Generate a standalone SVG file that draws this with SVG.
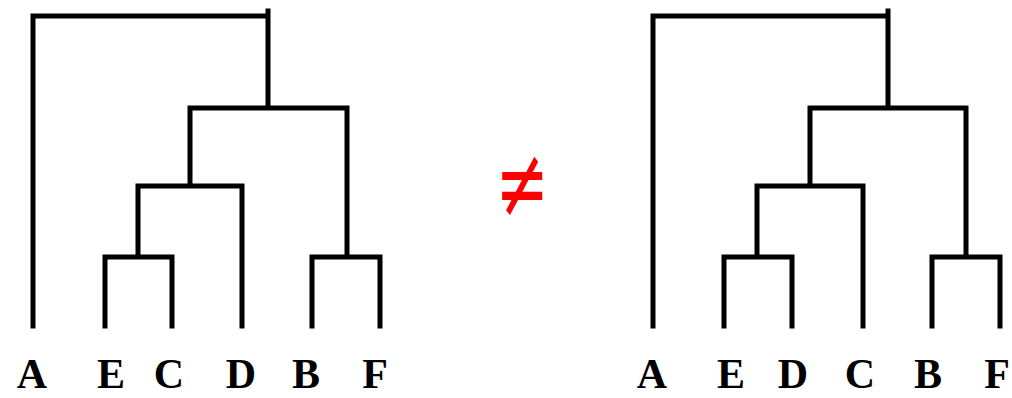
<svg xmlns="http://www.w3.org/2000/svg" width="1012" height="398" viewBox="0 0 1012 398">
<style>
.ln{fill:none;stroke:#000;stroke-width:5;stroke-linecap:square;stroke-linejoin:miter}
.lb{font-family:"Liberation Serif","Times New Roman",serif;font-weight:bold;font-size:42px;fill:#000;text-anchor:middle}
.ne{font-family:"DejaVu Sans",sans-serif;font-size:64px;fill:#ff0000;text-anchor:middle}
</style>
<rect width="1012" height="398" fill="#fff"/>
<g id="connectors">
<g id="tree-left">
<path class="ln" d="M33,326 V16 H268 M268,11 V108 M190,186 V108 H347 V257 M138,257 V186 H242 V326 M105,326 V257 H172 V326 M312,326 V257 H380 V326"/>
</g>
<g id="tree-right">
<path class="ln" d="M653,326 V16 H888 M888,11 V108 M810,186 V108 H966 V257 M757,257 V186 H863 V326 M724,326 V257 H792 V326 M932,326 V257 H1000 V326"/>
</g>
</g>
<g id="left-A"><text class="lb" x="32" y="388">A</text></g>
<g id="left-E"><text class="lb" x="111" y="388">E</text></g>
<g id="left-C"><text class="lb" x="169" y="388">C</text></g>
<g id="left-D"><text class="lb" x="241" y="388">D</text></g>
<g id="left-B"><text class="lb" x="306" y="388">B</text></g>
<g id="left-F"><text class="lb" x="375" y="388">F</text></g>
<g id="neq" transform="translate(522,184) scale(1,1.55)"><text class="ne" x="0" y="21">≠</text></g>
<g id="right-A"><text class="lb" x="652" y="388">A</text></g>
<g id="right-E"><text class="lb" x="731" y="388">E</text></g>
<g id="right-D"><text class="lb" x="793" y="388">D</text></g>
<g id="right-C"><text class="lb" x="860" y="388">C</text></g>
<g id="right-B"><text class="lb" x="928" y="388">B</text></g>
<g id="right-F"><text class="lb" x="997" y="388">F</text></g>
</svg>
